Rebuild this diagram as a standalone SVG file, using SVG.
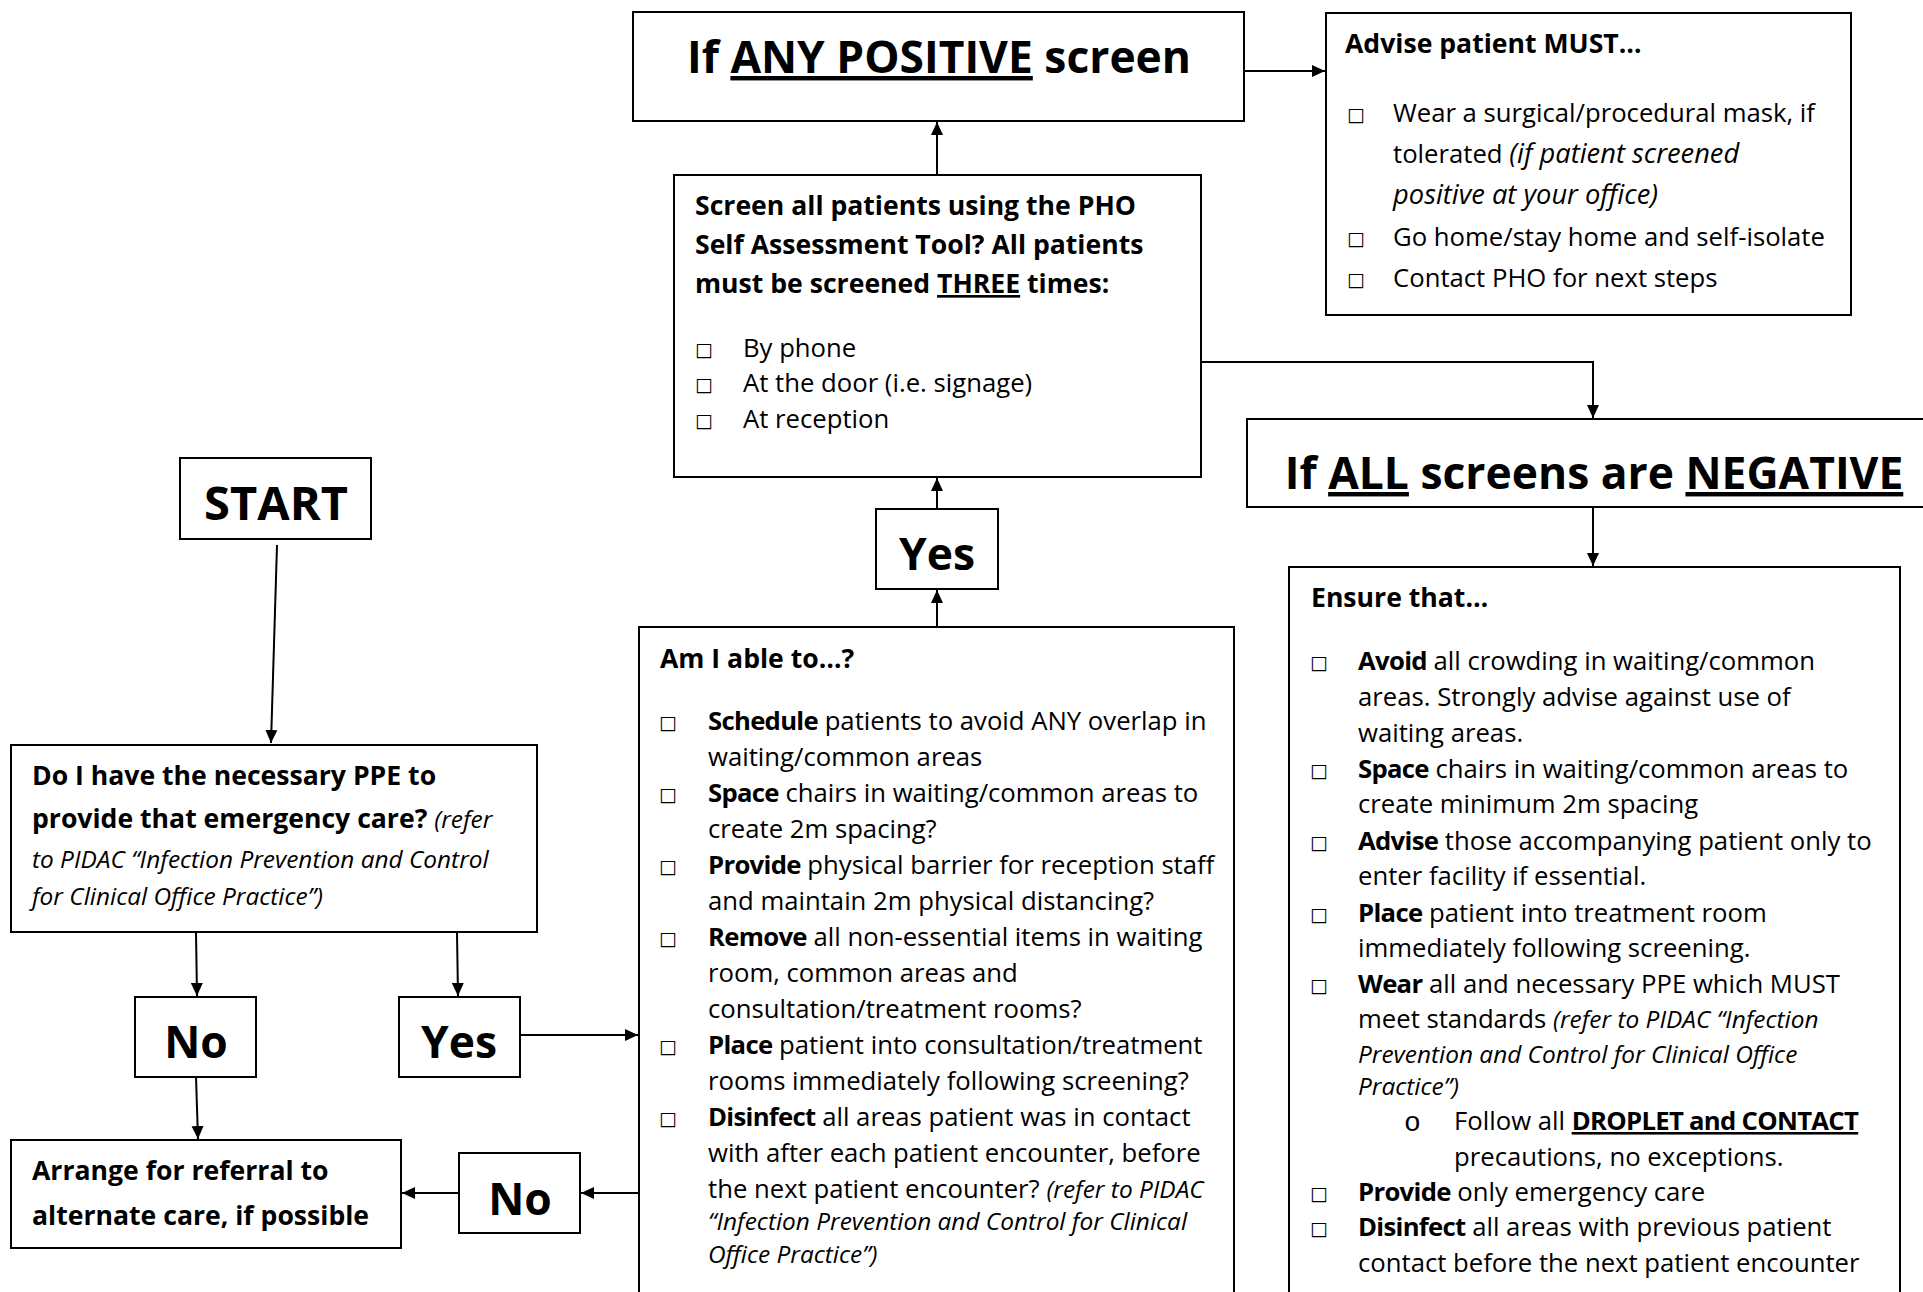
<svg xmlns="http://www.w3.org/2000/svg" width="1923" height="1292" viewBox="0 0 1923 1292">
<style>
text{font-family:"Open Sans","Liberation Sans",sans-serif;fill:#000}
.box{fill:#fff;stroke:#000;stroke-width:2}
.tc{font-size:44.4px;font-weight:bold;text-anchor:middle}
.h{font-size:26.6px;font-weight:bold}
.b{font-size:25.7px}
.i{font-size:24.4px;font-style:italic}
.bo{font-weight:bold;letter-spacing:-0.7px}
.it{font-style:italic;font-size:24.4px}
.ai{font-style:italic;font-size:27.3px}
.u{text-decoration:underline}
.bl{font-family:"DejaVu Sans",sans-serif;font-size:19px}
.sb{font-family:"Liberation Mono",monospace;font-size:28px}
.c{fill:none;stroke:#000;stroke-width:2}
</style>
<defs>
<marker id="ah" markerUnits="userSpaceOnUse" markerWidth="14" markerHeight="14" viewBox="0 0 14 14" refX="13" refY="7" orient="auto">
<path d="M0,1 L13,7 L0,13 Z" fill="#000"/>
</marker>
</defs>
<rect width="1923" height="1292" fill="#fff"/>

<g id="connectors">
<line class="c" x1="937" y1="175" x2="937" y2="122" marker-end="url(#ah)"/>
<line class="c" x1="1244" y1="71" x2="1325" y2="71" marker-end="url(#ah)"/>
<polyline class="c" points="1201,362 1593,362 1593,418" marker-end="url(#ah)"/>
<line class="c" x1="1593" y1="507" x2="1593" y2="566" marker-end="url(#ah)"/>
<line class="c" x1="937" y1="509" x2="937" y2="478" marker-end="url(#ah)"/>
<line class="c" x1="937" y1="627" x2="937" y2="590" marker-end="url(#ah)"/>
<line class="c" x1="277" y1="545" x2="271" y2="743" marker-end="url(#ah)"/>
<line class="c" x1="196" y1="933" x2="197" y2="996" marker-end="url(#ah)"/>
<line class="c" x1="457" y1="933" x2="458" y2="996" marker-end="url(#ah)"/>
<line class="c" x1="196" y1="1077" x2="198" y2="1139" marker-end="url(#ah)"/>
<line class="c" x1="521" y1="1035" x2="638" y2="1035" marker-end="url(#ah)"/>
<line class="c" x1="639" y1="1193" x2="581" y2="1193" marker-end="url(#ah)"/>
<line class="c" x1="459" y1="1193" x2="402" y2="1193" marker-end="url(#ah)"/>
</g>

<g id="node-any-positive">
<rect class="box" x="633" y="12" width="611" height="109"/>
<text class="tc" x="939" y="73">If <tspan class="u">ANY POSITIVE</tspan> screen</text>
</g>

<g id="node-advise">
<rect class="box" x="1326" y="13" width="525" height="302"/>
<text class="h" x="1345" y="53">Advise patient MUST…</text>
<text class="bl" x="1347" y="121">□</text><text class="bl" x="1347" y="245">□</text><text class="bl" x="1347" y="286">□</text>
<text class="b" x="1393" y="122">Wear a surgical/procedural mask, if</text>
<text class="b" x="1393" y="163">tolerated <tspan class="ai">(if patient screened</tspan></text>
<text class="ai" x="1393" y="204">positive at your office)</text>
<text class="b" x="1393" y="246">Go home/stay home and self-isolate</text>
<text class="b" x="1393" y="287">Contact PHO for next steps</text>
</g>

<g id="node-screen">
<rect class="box" x="674" y="175" width="527" height="302"/>
<text class="h" x="695" y="215">Screen all patients using the PHO</text>
<text class="h" x="695" y="254">Self Assessment Tool? All patients</text>
<text class="h" x="695" y="293">must be screened <tspan class="u">THREE</tspan> times:</text>
<text class="bl" x="695" y="356">□</text><text class="bl" x="695" y="391">□</text><text class="bl" x="695" y="427">□</text>
<text class="b" x="743" y="357">By phone</text>
<text class="b" x="743" y="392">At the door (i.e. signage)</text>
<text class="b" x="743" y="428">At reception</text>
</g>

<g id="node-all-negative">
<rect class="box" x="1247" y="419" width="690" height="88"/>
<text class="tc" x="1594" y="489">If <tspan class="u">ALL</tspan> screens are <tspan class="u">NEGATIVE</tspan></text>
</g>

<g id="node-ensure">
<rect class="box" x="1289" y="567" width="611" height="740"/>
<text class="h" x="1311" y="607">Ensure that…</text>
<text class="bl" x="1310" y="669">□</text>
<text class="bl" x="1310" y="777">□</text>
<text class="bl" x="1310" y="849">□</text>
<text class="bl" x="1310" y="921">□</text>
<text class="bl" x="1310" y="992">□</text>
<text class="bl" x="1310" y="1200">□</text>
<text class="bl" x="1310" y="1235">□</text>
<text class="b" x="1358" y="670"><tspan class="bo">Avoid</tspan> all crowding in waiting/common</text>
<text class="b" x="1358" y="706">areas. Strongly advise against use of</text>
<text class="b" x="1358" y="742">waiting areas.</text>
<text class="b" x="1358" y="778"><tspan class="bo">Space</tspan> chairs in waiting/common areas to</text>
<text class="b" x="1358" y="813">create minimum 2m spacing</text>
<text class="b" x="1358" y="850"><tspan class="bo">Advise</tspan> those accompanying patient only to</text>
<text class="b" x="1358" y="885">enter facility if essential.</text>
<text class="b" x="1358" y="922"><tspan class="bo">Place</tspan> patient into treatment room</text>
<text class="b" x="1358" y="957">immediately following screening.</text>
<text class="b" x="1358" y="993"><tspan class="bo">Wear</tspan> all and necessary PPE which MUST</text>
<text class="b" x="1358" y="1028">meet standards <tspan class="it">(refer to PIDAC “Infection</tspan></text>
<text class="i" x="1358" y="1063">Prevention and Control for Clinical Office</text>
<text class="i" x="1358" y="1095">Practice”)</text>
<text class="sb" x="1404" y="1131">o</text>
<text class="b" x="1454" y="1130">Follow all <tspan class="bo u">DROPLET and CONTACT</tspan></text>
<text class="b" x="1454" y="1166">precautions, no exceptions.</text>
<text class="b" x="1358" y="1201"><tspan class="bo">Provide</tspan> only emergency care</text>
<text class="b" x="1358" y="1236"><tspan class="bo">Disinfect</tspan> all areas with previous patient</text>
<text class="b" x="1358" y="1272">contact before the next patient encounter</text>
</g>

<g id="node-yes-top">
<rect class="box" x="876" y="509" width="122" height="80"/>
<text class="tc" x="937" y="570">Yes</text>
</g>

<g id="node-am-i-able">
<rect class="box" x="639" y="627" width="595" height="680"/>
<text class="h" x="660" y="668">Am I able to…?</text>
<text class="bl" x="659" y="729">□</text>
<text class="bl" x="659" y="801">□</text>
<text class="bl" x="659" y="873">□</text>
<text class="bl" x="659" y="945">□</text>
<text class="bl" x="659" y="1053">□</text>
<text class="bl" x="659" y="1125">□</text>
<text class="b" x="708" y="730"><tspan class="bo">Schedule</tspan> patients to avoid ANY overlap in</text>
<text class="b" x="708" y="766">waiting/common areas</text>
<text class="b" x="708" y="802"><tspan class="bo">Space</tspan> chairs in waiting/common areas to</text>
<text class="b" x="708" y="838">create 2m spacing?</text>
<text class="b" x="708" y="874"><tspan class="bo">Provide</tspan> physical barrier for reception staff</text>
<text class="b" x="708" y="910">and maintain 2m physical distancing?</text>
<text class="b" x="708" y="946"><tspan class="bo">Remove</tspan> all non-essential items in waiting</text>
<text class="b" x="708" y="982">room, common areas and</text>
<text class="b" x="708" y="1018">consultation/treatment rooms?</text>
<text class="b" x="708" y="1054"><tspan class="bo">Place</tspan> patient into consultation/treatment</text>
<text class="b" x="708" y="1090">rooms immediately following screening?</text>
<text class="b" x="708" y="1126"><tspan class="bo">Disinfect</tspan> all areas patient was in contact</text>
<text class="b" x="708" y="1162">with after each patient encounter, before</text>
<text class="b" x="708" y="1198">the next patient encounter? <tspan class="it">(refer to PIDAC</tspan></text>
<text class="i" x="708" y="1230">“Infection Prevention and Control for Clinical</text>
<text class="i" x="708" y="1263">Office Practice”)</text>
</g>

<g id="node-start">
<rect class="box" x="180" y="458" width="191" height="81"/>
<text class="tc" x="276" y="520" style="font-size:47px">START</text>
</g>

<g id="node-ppe">
<rect class="box" x="11" y="745" width="526" height="187"/>
<text class="h" x="32" y="785">Do I have the necessary PPE to</text>
<text class="h" x="32" y="828">provide that emergency care? <tspan class="it" style="font-weight:normal">(refer</tspan></text>
<text class="i" x="32" y="868">to PIDAC “Infection Prevention and Control</text>
<text class="i" x="32" y="905">for Clinical Office Practice”)</text>
</g>

<g id="node-no-left">
<rect class="box" x="135" y="997" width="121" height="80"/>
<text class="tc" x="196" y="1058">No</text>
</g>

<g id="node-yes-left">
<rect class="box" x="399" y="997" width="121" height="80"/>
<text class="tc" x="459" y="1058">Yes</text>
</g>

<g id="node-no-bottom">
<rect class="box" x="459" y="1153" width="121" height="80"/>
<text class="tc" x="520" y="1215">No</text>
</g>

<g id="node-referral">
<rect class="box" x="11" y="1140" width="390" height="108"/>
<text class="h" x="32" y="1180">Arrange for referral to</text>
<text class="h" x="32" y="1225">alternate care, if possible</text>
</g>
</svg>
